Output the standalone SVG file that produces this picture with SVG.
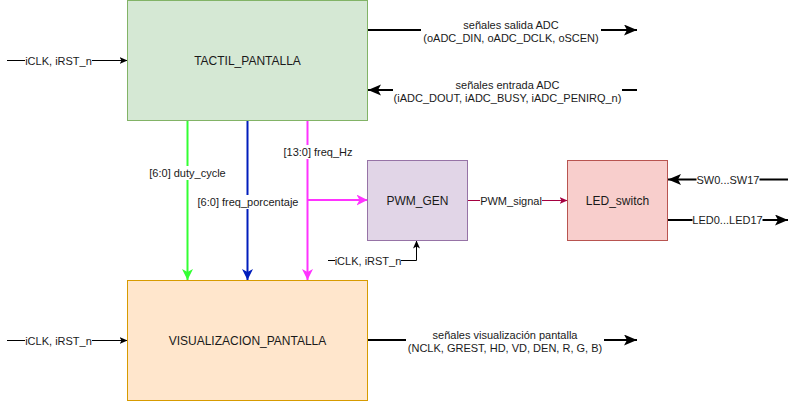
<svg xmlns="http://www.w3.org/2000/svg" width="798" height="402" viewBox="0 0 798 402">
<style>
text{font-family:"Liberation Sans",Arial,sans-serif;fill:#1a1a1a;text-anchor:middle}
.box{font-size:12px}
.lbl{font-size:11px}
.bg{fill:#fff}
.thin{stroke:#000;stroke-width:1;fill:none}
.thick{stroke:#000;stroke-width:2;fill:none}
</style>
<defs>
<marker id="aThin" markerUnits="userSpaceOnUse" markerWidth="10" markerHeight="10" refX="8" refY="4" orient="auto"><path d="M0,0.5 L8,4 L0,7.5 L2,4 Z" fill="#000"/></marker>
<marker id="aThick" markerUnits="userSpaceOnUse" markerWidth="14" markerHeight="12" refX="13" refY="5.5" orient="auto"><path d="M0,0 L13,5.5 L0,11 L3,5.5 Z" fill="#000"/></marker>
<marker id="aRed" markerUnits="userSpaceOnUse" markerWidth="10" markerHeight="10" refX="8" refY="4" orient="auto"><path d="M0,0.5 L8,4 L0,7.5 L2,4 Z" fill="#A50040"/></marker>
<marker id="aGreen" markerUnits="userSpaceOnUse" markerWidth="12" markerHeight="12" refX="11" refY="5.5" orient="auto"><path d="M0,0 L11,5.5 L0,11 L3,5.5 Z" fill="#33FF33"/></marker>
<marker id="aBlue" markerUnits="userSpaceOnUse" markerWidth="12" markerHeight="12" refX="11" refY="5.5" orient="auto"><path d="M0,0 L11,5.5 L0,11 L3,5.5 Z" fill="#001DBC"/></marker>
<marker id="aMag" markerUnits="userSpaceOnUse" markerWidth="12" markerHeight="12" refX="11" refY="5.5" orient="auto"><path d="M0,0 L11,5.5 L0,11 L3,5.5 Z" fill="#FF33FF"/></marker>
</defs>

<g id="connectors">
  <!-- left inputs -->
  <line class="thin" x1="7" y1="60.5" x2="127.5" y2="60.5" marker-end="url(#aThin)"/>
  <line class="thin" x1="7" y1="340.5" x2="127.5" y2="340.5" marker-end="url(#aThin)"/>
  <!-- ADC -->
  <line class="thick" x1="367.5" y1="30" x2="637" y2="30" marker-end="url(#aThick)"/>
  <line class="thick" x1="637" y1="90" x2="368" y2="90" marker-end="url(#aThick)"/>
  <line class="thick" x1="367.5" y1="340" x2="637" y2="340" marker-end="url(#aThick)"/>
  <!-- colored buses -->
  <line x1="187.5" y1="120.5" x2="187.5" y2="280" stroke="#33FF33" stroke-width="2" marker-end="url(#aGreen)"/>
  <line x1="247.5" y1="120.5" x2="247.5" y2="280" stroke="#001DBC" stroke-width="2" marker-end="url(#aBlue)"/>
  <line x1="307.5" y1="120.5" x2="307.5" y2="280" stroke="#FF33FF" stroke-width="2" marker-end="url(#aMag)"/>
  <line x1="307.5" y1="200" x2="367.5" y2="200" stroke="#FF33FF" stroke-width="2" marker-end="url(#aMag)"/>
  <!-- PWM clock -->
  <polyline class="thin" points="328,260.5 416.5,260.5 416.5,240.5" marker-end="url(#aThin)"/>
  <!-- PWM signal -->
  <line x1="467.5" y1="200.5" x2="567.5" y2="200.5" stroke="#A50040" stroke-width="1" marker-end="url(#aRed)"/>
  <!-- switches and leds -->
  <line class="thick" x1="788" y1="179.5" x2="668" y2="179.5" marker-end="url(#aThick)"/>
  <line class="thick" x1="667.5" y1="220" x2="788" y2="220" marker-end="url(#aThick)"/>
</g>

<g id="labels">
  <rect class="bg" x="25" y="53" width="67" height="14"/>
  <text class="lbl" x="58.5" y="64.5">iCLK, iRST_n</text>
  <rect class="bg" x="25" y="333" width="67" height="14"/>
  <text class="lbl" x="58.5" y="344.5">iCLK, iRST_n</text>

  <rect class="bg" x="421" y="17" width="180" height="28"/>
  <text class="lbl" x="511" y="28.5">señales salida ADC</text>
  <text class="lbl" x="511" y="41.5">(oADC_DIN, oADC_DCLK, oSCEN)</text>

  <rect class="bg" x="393" y="77" width="229" height="28"/>
  <text class="lbl" x="507.5" y="88.5">señales entrada ADC</text>
  <text class="lbl" x="507.5" y="101.5">(iADC_DOUT, iADC_BUSY, iADC_PENIRQ_n)</text>

  <rect class="bg" x="406" y="327" width="198" height="28"/>
  <text class="lbl" x="505" y="338.5">señales visualización pantalla</text>
  <text class="lbl" x="505" y="351.5">(NCLK, GREST, HD, VD, DEN, R, G, B)</text>

  <rect class="bg" x="149" y="166" width="77" height="14"/>
  <text class="lbl" x="187.5" y="177">[6:0] duty_cycle</text>
  <rect class="bg" x="197" y="195" width="102" height="14"/>
  <text class="lbl" x="248" y="206">[6:0] freq_porcentaje</text>
  <rect class="bg" x="283.5" y="145" width="69" height="14"/>
  <text class="lbl" x="318" y="156">[13:0] freq_Hz</text>

  <rect class="bg" x="335" y="254" width="66" height="13"/>
  <text class="lbl" x="368" y="264.5">iCLK, iRST_n</text>

  <rect class="bg" x="480" y="194" width="62" height="13"/>
  <text class="lbl" x="511" y="204.5">PWM_signal</text>

  <rect class="bg" x="696.5" y="173" width="63" height="13"/>
  <text class="lbl" x="728" y="183.5">SW0...SW17</text>
  <rect class="bg" x="692.5" y="213.5" width="70" height="13"/>
  <text class="lbl" x="727.5" y="224">LED0...LED17</text>
</g>

<g id="TACTIL_PANTALLA">
  <rect x="127.5" y="0.5" width="240" height="120" fill="#d5e8d4" stroke="#82b366"/>
  <text class="box" x="247.5" y="64.5">TACTIL_PANTALLA</text>
</g>
<g id="VISUALIZACION_PANTALLA">
  <rect x="127.5" y="280.5" width="240" height="120" fill="#ffe6cc" stroke="#d79b00"/>
  <text class="box" x="247.5" y="344.5">VISUALIZACION_PANTALLA</text>
</g>
<g id="PWM_GEN">
  <rect x="367.5" y="160.5" width="100" height="80" fill="#e1d5e7" stroke="#9673a6"/>
  <text class="box" x="417.5" y="204.5">PWM_GEN</text>
</g>
<g id="LED_switch">
  <rect x="567.5" y="160.5" width="100" height="80" fill="#f8cecc" stroke="#b85450"/>
  <text class="box" x="617.5" y="204.5">LED_switch</text>
</g>
</svg>
